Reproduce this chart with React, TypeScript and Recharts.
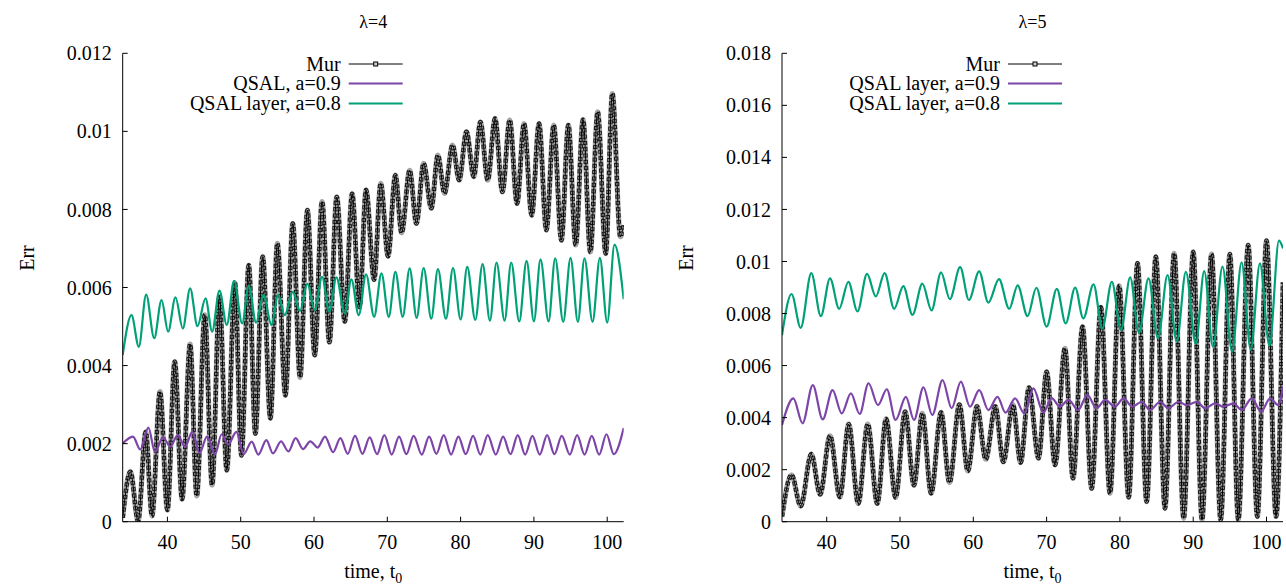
import React from "react";
import { LineChart, Line, XAxis, YAxis } from "recharts";

const FONT = "Liberation Serif, Times New Roman, Times, serif";
const PURPLE = "#7d45a8";
const GREEN = "#00a078";

const xTicks = [40, 50, 60, 70, 80, 90, 100];
const xDomain: [number, number] = [33.9, 102.25];
const yTicks4 = [0, 0.002, 0.004, 0.006, 0.008, 0.01, 0.012];
const yTicks5 = [0, 0.002, 0.004, 0.006, 0.008, 0.01, 0.012, 0.014, 0.016, 0.018];

// lambda = 4, values read at the peaks and troughs
const mur4T = [33.9, 34.95, 36.0, 37.04, 37.9, 38.99, 40.0, 41.0, 42.0, 43.1, 44.0, 45.1, 46.1, 47.1, 48.1, 49.2, 50.1, 51.1, 52.0, 53.0, 54.05, 55.0, 56.1, 57.1, 58.1, 59.1, 60.1, 61.1, 62.1, 63.1, 64.2, 65.2, 66.2, 67.1, 68.2, 69.1, 70.1, 71.1, 71.95, 73.05, 73.97, 74.96, 76.0, 76.9, 77.8, 78.9, 79.8, 80.8, 81.8, 82.7, 83.7, 84.7, 85.7, 86.7, 87.7, 88.65, 89.7, 90.7, 91.7, 92.7, 93.75, 94.7, 95.7, 96.7, 97.7, 98.7, 99.8, 100.7, 101.8, 102.25];
const mur4V = [0.0001, 0.00128, 0.00002, 0.0023, 0.00015, 0.00333, 0.0003, 0.0041, 0.00058, 0.00455, 0.00066, 0.0053, 0.00094, 0.00576, 0.00132, 0.00612, 0.0017, 0.00657, 0.00226, 0.00679, 0.00265, 0.00713, 0.00324, 0.00764, 0.0037, 0.00798, 0.00427, 0.0082, 0.0046, 0.00832, 0.00513, 0.0084, 0.0055, 0.0085, 0.0062, 0.00867, 0.0068, 0.00888, 0.0074, 0.009, 0.00764, 0.00918, 0.00803, 0.00939, 0.00841, 0.00965, 0.00875, 0.00999, 0.00884, 0.01024, 0.00875, 0.01033, 0.00845, 0.01029, 0.00815, 0.0102, 0.00785, 0.0102, 0.00747, 0.01016, 0.00721, 0.01016, 0.00709, 0.0103, 0.00691, 0.0105, 0.00687, 0.01097, 0.0073, 0.0076];

const qsal4T = [33.9, 35.3, 36.3, 37.4, 38.3, 39.4, 40.4, 41.4, 42.4, 43.4, 44.4, 45.4, 46.5, 47.4, 48.3, 49.4, 50.4, 51.5, 52.4, 53.5, 54.4, 55.5, 56.5, 57.5, 58.5, 59.5, 60.5, 61.5, 62.6, 63.6, 64.6, 65.6, 66.6, 67.6, 68.6, 69.6, 70.6, 71.6, 72.6, 73.6, 74.7, 75.7, 76.7, 77.7, 78.7, 79.7, 80.7, 81.7, 82.7, 83.7, 84.8, 85.8, 86.8, 87.8, 88.8, 89.8, 90.8, 91.8, 92.8, 93.8, 94.9, 95.9, 96.9, 97.9, 98.9, 99.9, 100.9, 102.25];
const qsal4V = [0.002, 0.00218, 0.00185, 0.00241, 0.00179, 0.00216, 0.00192, 0.00222, 0.00192, 0.0023, 0.00176, 0.00218, 0.00173, 0.00224, 0.00198, 0.0023, 0.00173, 0.00205, 0.00172, 0.00209, 0.00175, 0.00206, 0.0018, 0.00214, 0.00186, 0.00206, 0.0019, 0.00218, 0.00178, 0.00214, 0.00174, 0.0022, 0.00174, 0.00216, 0.00173, 0.00222, 0.00172, 0.00218, 0.00173, 0.0022, 0.00172, 0.00218, 0.00174, 0.00222, 0.00172, 0.00218, 0.00173, 0.0022, 0.00172, 0.00222, 0.00172, 0.00218, 0.00173, 0.00222, 0.00172, 0.0022, 0.00172, 0.00222, 0.00173, 0.0022, 0.00172, 0.00222, 0.00172, 0.0022, 0.00172, 0.00224, 0.00173, 0.0024];

const layer4T = [33.9, 35.1, 36.1, 37.1, 38.2, 39.2, 40.1, 41.1, 42.1, 43.1, 44.1, 45.2, 46.1, 47.1, 48.1, 49.1, 50.2, 51.1, 52.1, 53.1, 54.2, 55.1, 56.0, 57.1, 58.1, 59.1, 60.1, 61.1, 62.1, 63.05, 64.2, 65.1, 66.1, 67.1, 68.2, 69.2, 70.2, 71.1, 72.1, 73.05, 74.0, 74.96, 76.0, 76.9, 78.0, 78.96, 80.0, 80.9, 82.0, 83.0, 84.0, 84.9, 86.0, 86.9, 88.0, 89.0, 90.0, 90.9, 92.0, 92.9, 94.0, 95.0, 96.0, 96.9, 98.0, 99.0, 100.0, 101.0, 102.25];
const layer4V = [0.00427, 0.00529, 0.00448, 0.00582, 0.0047, 0.00568, 0.00487, 0.00575, 0.00495, 0.00598, 0.00501, 0.00572, 0.00487, 0.00592, 0.00504, 0.00617, 0.00508, 0.00604, 0.0051, 0.00581, 0.00504, 0.00581, 0.00529, 0.00589, 0.0054, 0.0061, 0.00542, 0.00627, 0.00538, 0.00626, 0.00534, 0.00621, 0.00529, 0.00634, 0.00525, 0.00636, 0.00525, 0.0064, 0.00525, 0.00649, 0.00522, 0.0065, 0.0052, 0.00647, 0.0052, 0.0065, 0.00518, 0.00653, 0.00517, 0.0066, 0.00515, 0.00664, 0.00515, 0.00664, 0.00513, 0.00668, 0.00513, 0.00672, 0.00513, 0.00675, 0.00512, 0.00676, 0.00512, 0.00675, 0.00512, 0.00676, 0.0051, 0.0071, 0.0057];

// lambda = 5
const mur5T = [33.9, 35.2, 36.45, 37.9, 39.1, 40.45, 41.8, 43.0, 44.3, 45.6, 46.9, 48.1, 49.4, 50.7, 51.9, 53.05, 54.25, 55.6, 56.75, 58.1, 59.25, 60.5, 61.7, 63.0, 64.1, 65.4, 66.45, 67.6, 68.9, 70.0, 71.15, 72.5, 73.6, 74.9, 76.15, 77.4, 78.65, 79.9, 81.2, 82.4, 83.65, 84.9, 86.15, 87.4, 88.7, 90.0, 91.2, 92.5, 93.75, 95.0, 96.15, 97.5, 98.75, 100.0, 101.3, 102.25];
const mur5V = [0.0002, 0.0018, 0.0006, 0.0026, 0.00105, 0.0033, 0.00095, 0.00375, 0.0007, 0.00375, 0.0007, 0.00395, 0.00093, 0.00423, 0.0014, 0.00416, 0.00109, 0.0042, 0.0015, 0.0045, 0.00195, 0.00443, 0.0024, 0.00443, 0.0023, 0.0045, 0.00227, 0.00515, 0.00244, 0.00576, 0.00218, 0.00666, 0.00167, 0.00749, 0.00128, 0.00824, 0.00109, 0.00906, 0.00094, 0.00993, 0.00077, 0.01018, 0.00051, 0.01031, 0.00013, 0.01037, 0.00007, 0.01028, 0.00007, 0.01028, 0.00007, 0.01063, 0.0002, 0.0108, 0.0002, 0.0092];

const qsal5T = [33.9, 35.45, 36.7, 38.1, 39.45, 40.8, 42.05, 43.3, 44.5, 45.7, 47.0, 48.2, 49.4, 50.8, 51.9, 53.2, 54.4, 55.8, 57.05, 58.3, 59.55, 60.8, 62.05, 63.3, 64.4, 65.7, 66.95, 68.2, 69.55, 70.7, 71.8, 73.0, 74.3, 75.55, 76.8, 78.0, 79.3, 80.5, 81.7, 83.0, 84.1, 85.5, 86.6, 88.0, 89.1, 90.5, 91.6, 93.0, 94.1, 95.5, 96.6, 98.0, 99.25, 100.5, 101.6, 102.25];
const qsal5V = [0.00372, 0.00474, 0.00378, 0.00525, 0.00393, 0.00506, 0.00416, 0.00493, 0.00414, 0.00532, 0.00448, 0.00509, 0.00391, 0.0048, 0.00391, 0.00516, 0.0041, 0.00544, 0.00436, 0.00538, 0.00442, 0.00506, 0.00429, 0.0048, 0.00419, 0.00474, 0.00416, 0.00512, 0.00419, 0.00475, 0.00442, 0.00468, 0.00429, 0.00487, 0.00436, 0.00468, 0.00442, 0.00474, 0.00442, 0.00461, 0.00429, 0.00461, 0.00436, 0.00461, 0.00448, 0.00461, 0.00436, 0.00455, 0.00442, 0.00455, 0.00429, 0.00474, 0.00423, 0.00474, 0.00448, 0.0052];

const layer5T = [33.9, 35.2, 36.45, 37.9, 39.2, 40.45, 41.7, 42.95, 44.2, 45.5, 46.7, 47.9, 49.2, 50.45, 51.7, 53.05, 54.3, 55.6, 56.8, 58.2, 59.4, 60.8, 62.05, 63.5, 64.9, 66.05, 67.4, 68.6, 70.0, 71.4, 72.6, 73.9, 75.0, 76.4, 77.6, 78.9, 80.15, 81.4, 82.6, 83.9, 85.2, 86.5, 87.75, 89.0, 90.35, 91.5, 92.7, 94.0, 95.3, 96.6, 97.85, 99.1, 100.4, 101.7, 102.25];
const layer5V = [0.00717, 0.00875, 0.00745, 0.00955, 0.0079, 0.00935, 0.00818, 0.00922, 0.00808, 0.00952, 0.00866, 0.00955, 0.00818, 0.00905, 0.00795, 0.00915, 0.00812, 0.00958, 0.00855, 0.00978, 0.00852, 0.00962, 0.00842, 0.00932, 0.00818, 0.00908, 0.0079, 0.00899, 0.0075, 0.00895, 0.00762, 0.009, 0.00781, 0.00912, 0.00743, 0.00922, 0.00737, 0.00939, 0.00726, 0.00935, 0.00705, 0.00948, 0.00692, 0.0096, 0.00683, 0.00963, 0.00672, 0.0098, 0.00653, 0.00997, 0.0066, 0.00993, 0.00676, 0.0108, 0.0105];

type Pt = { t: number; v: number };
const rows = (t: number[], v: number[]): Pt[] => t.map((x, i) => ({ t: x, v: v[i] }));

const CH = 585;
const PLOT_TOP = 53.3;
const PLOT_BOTTOM = 521.7;
const YW = 60;
const XH = 40;
const PLOT_W = 501;

const common = {
  dataKey: "v",
  type: "monotone" as const,
  dot: false,
  activeDot: false,
  isAnimationActive: false,
  legendType: "none" as const,
};

// the Mur curve has a point at every step, so it reads as a chain of small squares
const murLayers = (data: Pt[], key: string) => [
  <Line key={key + "halo"} data={data} {...common} stroke="#a6a6a6" strokeWidth={5.2} />,
  <Line key={key + "box"} data={data} {...common} stroke="#1a1a1a" strokeWidth={4.4} strokeDasharray="4 2.3" />,
  <Line key={key + "fill"} data={data} {...common} stroke="#bdbdbd" strokeWidth={2.2} strokeDasharray="0 0.9 2.2 3.2" />,
  <Line key={key + "line"} data={data} {...common} stroke="#000" strokeWidth={1} />,
];

const tickFont = { fontFamily: FONT, fontSize: 20, fill: "#000" };

type PanelProps = {
  left: number;
  width: number;
  plotLeft: number;
  title: string;
  yMax: number;
  yTicks: number[];
  mur: Pt[];
  qsal: Pt[];
  layer: Pt[];
  qsalName: string;
};

function Panel({ left, width, plotLeft, title, yMax, yTicks, mur, qsal, layer, qsalName }: PanelProps) {
  const plotRight = plotLeft + PLOT_W;
  const cx = (plotLeft + plotRight) / 2;
  const tx = plotLeft + 218;
  const l1 = plotLeft + 226;
  const l2 = plotLeft + 280;
  const legend = [
    { name: "Mur", color: "#000", w: 1, y: 64 },
    { name: qsalName, color: PURPLE, w: 2.2, y: 83.5 },
    { name: "QSAL layer, a=0.8", color: GREEN, w: 2.2, y: 103.5 },
  ];
  return (
    <div style={{ position: "absolute", left, top: 0, width, height: CH }}>
      <LineChart
        width={width}
        height={CH}
        margin={{ top: PLOT_TOP, right: width - plotRight, bottom: CH - PLOT_BOTTOM - XH, left: plotLeft - YW }}
      >
        <XAxis
          dataKey="t"
          type="number"
          domain={xDomain}
          ticks={xTicks}
          allowDataOverflow
          height={XH}
          tickSize={-5}
          tickMargin={18}
          tick={tickFont}
          axisLine={{ stroke: "#000" }}
          tickLine={{ stroke: "#000" }}
        />
        <XAxis
          xAxisId="top"
          orientation="top"
          dataKey="t"
          type="number"
          domain={xDomain}
          ticks={xTicks}
          allowDataOverflow
          height={0}
          tickSize={-5}
          tick={false}
          axisLine={{ stroke: "#000" }}
          tickLine={{ stroke: "#000" }}
        />
        <YAxis
          type="number"
          domain={[0, yMax]}
          ticks={yTicks}
          allowDataOverflow
          width={YW}
          tickSize={-5}
          tickMargin={16}
          tick={tickFont}
          tickFormatter={(v: number) => String(v)}
          axisLine={{ stroke: "#000" }}
          tickLine={{ stroke: "#000" }}
        />
        <YAxis
          yAxisId="right"
          orientation="right"
          type="number"
          domain={[0, yMax]}
          ticks={yTicks}
          allowDataOverflow
          width={0}
          tickSize={-5}
          tick={false}
          axisLine={{ stroke: "#000" }}
          tickLine={{ stroke: "#000" }}
        />
        {murLayers(mur, "mur")}
        <Line data={qsal} {...common} stroke={PURPLE} strokeWidth={2.2} />
        <Line data={layer} {...common} stroke={GREEN} strokeWidth={2.2} />
      </LineChart>
      <svg
        width={width}
        height={CH}
        style={{ position: "absolute", left: 0, top: 0, pointerEvents: "none" }}
        fontFamily={FONT}
      >
        <text x={cx} y={28} textAnchor="middle" fontSize={18}>
          {title}
        </text>
        <text x={plotLeft - 96} y={258} textAnchor="middle" fontSize={20} transform={`rotate(-90 ${plotLeft - 96} 258)`} dominantBaseline="central">
          Err
        </text>
        <text x={cx} y={578} textAnchor="middle" fontSize={20}>
          time, t<tspan fontSize={14} dy={5}>0</tspan>
        </text>
        {legend.map((d) => (
          <g key={d.name}>
            <text x={tx} y={d.y + 6.5} textAnchor="end" fontSize={20}>
              {d.name}
            </text>
            <line x1={l1} x2={l2} y1={d.y} y2={d.y} stroke={d.color} strokeWidth={d.w} />
          </g>
        ))}
        <rect x={(l1 + l2) / 2 - 2} y={62} width={4} height={4} fill="#ccc" stroke="#000" strokeWidth={1} />
      </svg>
    </div>
  );
}

export default function App() {
  return (
    <div style={{ position: "absolute", left: 0, top: 0, width: 1286, height: CH, background: "#fff", fontFamily: FONT }}>
      <Panel
        left={0}
        width={640}
        plotLeft={122.7}
        title="λ=4"
        yMax={0.012}
        yTicks={yTicks4}
        mur={rows(mur4T, mur4V)}
        qsal={rows(qsal4T, qsal4V)}
        layer={rows(layer4T, layer4V)}
        qsalName="QSAL, a=0.9"
      />
      <Panel
        left={660}
        width={626}
        plotLeft={122}
        title="λ=5"
        yMax={0.018}
        yTicks={yTicks5}
        mur={rows(mur5T, mur5V)}
        qsal={rows(qsal5T, qsal5V)}
        layer={rows(layer5T, layer5V)}
        qsalName="QSAL layer, a=0.9"
      />
    </div>
  );
}
